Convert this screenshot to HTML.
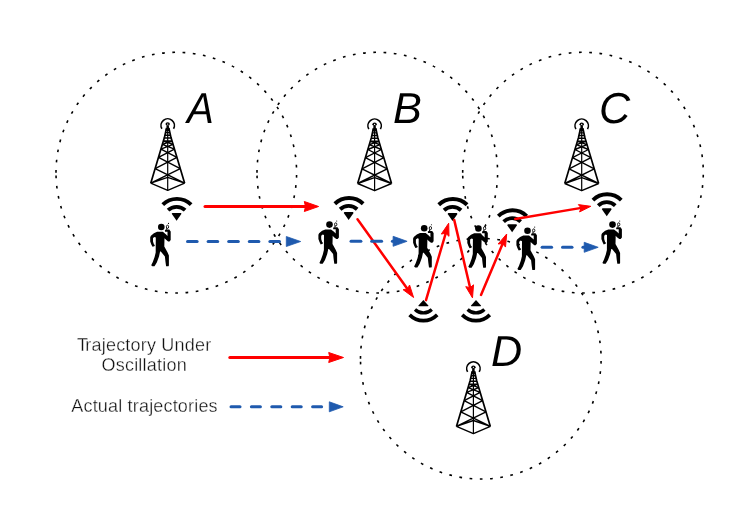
<!DOCTYPE html><html><head><meta charset="utf-8"><style>html,body{margin:0;padding:0;background:#fff;}svg{display:block}</style></head><body>
<svg width="756" height="531" viewBox="0 0 756 531">
<defs><g id="tower"><path d="M-5.8 10.75A6.7 6.7 0 1 1 5.8 10.75" fill="none" stroke="#000" stroke-width="1.6"/><ellipse cx="0" cy="6.0" rx="2.2" ry="1.8" fill="#000"/><circle cx="0" cy="6.1" r="0.65" fill="#fff"/><path d="M-1.2 7.4L1.2 7.4L1.3 10.0L2.44 12.2L-2.44 12.2L-1.3 10.0Z" fill="#000"/><path d="M-1.64 12.2L1.64 12.2M-2.18 14.6L2.18 14.6M-2.76 17.2L2.76 17.2M-3.42 20.0L3.42 20.0M-4.32 23.0L4.32 23.0M-4.32 23.0L5.34 26.4M4.32 23.0L-5.34 26.4M-5.34 26.4L6.77 31.2M5.34 26.4L-6.77 31.2M-6.77 31.2L9.23 39.4M6.77 31.2L-9.23 39.4M-9.23 39.4L12.58 50.6M9.23 39.4L-12.58 50.6M-12.58 50.6L16.95 65.2M12.58 50.6L-16.95 65.2M-16.95 65.2L0 72.4L16.95 65.2M-16.95 65.2L0 59.3L16.95 65.2" fill="none" stroke="#000" stroke-width="1.4" stroke-linejoin="round"/><path d="M-1.15 10.0L-3.3 19.6L-16.95 65.2M1.15 10.0L3.3 19.6L16.95 65.2" fill="none" stroke="#000" stroke-width="1.7"/><path d="M0 10.0V72.4" stroke="#000" stroke-width="1.2"/></g><g id="wifi"><path d="M-14.17 7.83A20.4 20.4 0 0 1 14.17 7.83" fill="none" stroke="#000" stroke-width="3.9"/><path d="M-8.52 13.36A12.5 12.5 0 0 1 8.52 13.36" fill="none" stroke="#000" stroke-width="3.8" transform="translate(-0.35 0)"/><path d="M-4.65 16.1L3.95 16.1L4.55 17L-0.35 24L-5.25 17Z" fill="#000"/></g><g id="wifif"><path d="M-14.24 7.75A20.5 20.5 0 0 1 14.24 7.75" fill="none" stroke="#000" stroke-width="3.8"/><path d="M-8.66 13.21A12.7 12.7 0 0 1 8.66 13.21" fill="none" stroke="#000" stroke-width="3.4"/><path d="M-4.8 16.4L4.8 16.4L5.3 17.0L0 22.7L-5.3 17.0Z" fill="#000"/></g><g id="person"><circle cx="0" cy="0" r="3.3" fill="#000"/><path d="M-4.2 4.8L1.5 4.8L4.5 7.2L6.2 8.9L6.2 4.7L3.8 4.7L3.6 3.2L4.5 2.6L8 2.6L9.4 4.6L9.4 13L8.2 14.5L6.8 14.5L4.5 12.6L3.2 11.2L3 19.5L6.3 25.5L7.6 28.5L7.6 38.5L7.2 39.2L4.8 39.2L4.2 35L3.6 29.5L-0.5 24.5L-1.2 24.5L-2.3 29.5L-4.5 35.5L-6.8 39.2L-9 39.2L-10.1 38.3L-8.5 35L-6.7 30L-5.6 25.5L-5.5 10.5L-6.8 9.9L-8.3 11.1L-8.3 14.5L-7.4 17.3L-6.4 18.3L-7 19.2L-8.8 19.8L-10 17.5L-11.1 14.5L-11.1 10.2L-10.4 8.7L-7.4 6.2Z" fill="#000"/><ellipse cx="6.2" cy="-0.2" rx="1.15" ry="1.6" fill="none" stroke="#000" stroke-width="0.9"/><path d="M5.3 2.7L5.6 1" stroke="#000" stroke-width="1"/><circle cx="7.2" cy="-3.6" r="0.55" fill="#000"/></g></defs>
<rect width="756" height="531" fill="#fff"/>
<path d="M56 172.65A120.3 120.3 0 1 1 296.6 172.65A120.3 120.3 0 1 1 56 172.65" fill="none" stroke="#000" stroke-width="1.6" stroke-dasharray="2.7 7.575"/>
<path d="M257 172.65A120.3 120.3 0 1 1 497.6 172.65A120.3 120.3 0 1 1 257 172.65" fill="none" stroke="#000" stroke-width="1.6" stroke-dasharray="2.7 7.575"/>
<path d="M462.7 172.65A120.3 120.3 0 1 1 703.3 172.65A120.3 120.3 0 1 1 462.7 172.65" fill="none" stroke="#000" stroke-width="1.6" stroke-dasharray="2.7 7.575"/>
<path d="M360.5 358.7A120.3 120.3 0 1 1 601.1 358.7A120.3 120.3 0 1 1 360.5 358.7" fill="none" stroke="#000" stroke-width="1.6" stroke-dasharray="2.7 7.575"/>
<use href="#tower" transform="translate(167.7 118)"/>
<use href="#tower" transform="translate(374.6 118.3)"/>
<use href="#tower" transform="translate(581.7 118.3)"/>
<use href="#tower" transform="translate(473.4 361.2)"/>
<g style="filter:opacity(1)">
<text transform="translate(186.9 122.6) scale(0.93 1)" font-family="Liberation Sans" font-style="italic" font-size="43.2" text-rendering="geometricPrecision" fill="#000">A</text>
<text transform="translate(393.1 122.7) scale(1 1)" font-family="Liberation Sans" font-style="italic" font-size="43.2" text-rendering="geometricPrecision" fill="#000">B</text>
<text transform="translate(599 122.9) scale(1 1)" font-family="Liberation Sans" font-style="italic" font-size="43.2" text-rendering="geometricPrecision" fill="#000">C</text>
<text transform="translate(490.9 365.7) scale(1 1)" font-family="Liberation Sans" font-style="italic" font-size="43.2" text-rendering="geometricPrecision" fill="#000">D</text>
</g>
<use href="#wifi" transform="translate(176.95 196.8)"/>
<use href="#wifi" transform="translate(349 195.9)"/>
<use href="#wifi" transform="translate(452.9 196.9)"/>
<use href="#wifi" transform="translate(512.5 208.2)"/>
<use href="#wifi" transform="translate(607.1 192.2)"/>
<use href="#wifif" transform="translate(423.4 322.7) scale(0.97 -1)"/>
<use href="#wifif" transform="translate(476 322.7) scale(0.97 -1)"/>
<use href="#person" transform="translate(161.3 227.0)"/>
<use href="#person" transform="translate(329.5 224.6)"/>
<use href="#person" transform="translate(424.2 228.3)"/>
<use href="#person" transform="translate(478.4 228.5)"/>
<use href="#person" transform="translate(527.5 230.7)"/>
<use href="#person" transform="translate(612.5 224.6)"/>
<path d="M205 206.5L305.8 206.5" stroke="#ff0000" stroke-width="3" stroke-linecap="round" fill="none"/><path d="M318.6 206.5L304.3 211.5L305.5 206.5L304.3 201.5Z" fill="#ff0000" stroke="#ff0000" stroke-width="1" stroke-linejoin="round"/>
<path d="M357.5 219.2L407.66 289.21" stroke="#ff0000" stroke-width="2.5" stroke-linecap="round" fill="none"/><path d="M413.6 297.5L403.07 289.67L407.48 288.96L409.57 285.01Z" fill="#ff0000" stroke="#ff0000" stroke-width="1" stroke-linejoin="round"/>
<path d="M426 300.1L445.81 232.98" stroke="#ff0000" stroke-width="2.5" stroke-linecap="round" fill="none"/><path d="M448.7 223.2L449 236.32L445.73 233.27L441.32 234.06Z" fill="#ff0000" stroke="#ff0000" stroke-width="1" stroke-linejoin="round"/>
<path d="M454.2 219.9L470.17 287.97" stroke="#ff0000" stroke-width="2.5" stroke-linecap="round" fill="none"/><path d="M472.5 297.9L465.75 286.64L470.1 287.68L473.54 284.82Z" fill="#ff0000" stroke="#ff0000" stroke-width="1" stroke-linejoin="round"/>
<path d="M481 294.9L502.73 243.4" stroke="#ff0000" stroke-width="2.5" stroke-linecap="round" fill="none"/><path d="M506.7 234L505.53 247.07L502.62 243.67L498.15 243.96Z" fill="#ff0000" stroke="#ff0000" stroke-width="1" stroke-linejoin="round"/>
<path d="M515.2 218.9L581.43 207.86" stroke="#ff0000" stroke-width="2.5" stroke-linecap="round" fill="none"/><path d="M590.8 206.3L579.57 211.92L581.13 207.91L578.35 204.62Z" fill="#ff0000" stroke="#ff0000" stroke-width="1" stroke-linejoin="round"/>
<path d="M187.5 241.5H197.1" stroke="#1f5aae" stroke-width="3" stroke-linecap="round"/><path d="M208.1 241.5H217.7" stroke="#1f5aae" stroke-width="3" stroke-linecap="round"/><path d="M228.7 241.5H238.3" stroke="#1f5aae" stroke-width="3" stroke-linecap="round"/><path d="M249.3 241.5H258.9" stroke="#1f5aae" stroke-width="3" stroke-linecap="round"/><path d="M269.9 241.5H279.5" stroke="#1f5aae" stroke-width="3" stroke-linecap="round"/><path d="M300.7 241.5L286.3 236.5L286.3 246.5Z" fill="#1f5aae" stroke="#1f5aae" stroke-width="0.8" stroke-linejoin="round"/>
<path d="M351 241.3H360.9" stroke="#1f5aae" stroke-width="3" stroke-linecap="round"/><path d="M371.7 241.3H381.6" stroke="#1f5aae" stroke-width="3" stroke-linecap="round"/><path d="M392.4 241.3H394.1" stroke="#1f5aae" stroke-width="3" stroke-linecap="round"/><path d="M407.1 241.3L393.1 236.3L393.1 246.3Z" fill="#1f5aae" stroke="#1f5aae" stroke-width="0.8" stroke-linejoin="round"/>
<path d="M542.1 247.3H551.6" stroke="#1f5aae" stroke-width="3" stroke-linecap="round"/><path d="M562.5 247.3H572" stroke="#1f5aae" stroke-width="3" stroke-linecap="round"/><path d="M582.9 247.3H585.2" stroke="#1f5aae" stroke-width="3" stroke-linecap="round"/><path d="M598.2 247.3L584.2 242.3L584.2 252.3Z" fill="#1f5aae" stroke="#1f5aae" stroke-width="0.8" stroke-linejoin="round"/>
<g style="filter:opacity(1)">
<text x="144.2" y="350.8" text-anchor="middle" font-family="Liberation Sans" font-size="18" fill="#111" letter-spacing="0.2" stroke="#fff" stroke-width="0.32">T<tspan dx="-2.2">rajectory Under</tspan></text>
<text x="144.2" y="370.7" text-anchor="middle" font-family="Liberation Sans" font-size="18" fill="#111" letter-spacing="0.22" stroke="#fff" stroke-width="0.32">Oscillation</text>
<text x="71.3" y="411.8" font-family="Liberation Sans" font-size="18" fill="#111" letter-spacing="0.18" stroke="#fff" stroke-width="0.32">Actual trajectories</text>
</g>
<path d="M229.8 357.5L330.2 357.5" stroke="#ff0000" stroke-width="3" stroke-linecap="round" fill="none"/><path d="M343.5 357.5L328.7 362.5L329.9 357.5L328.7 352.5Z" fill="#ff0000" stroke="#ff0000" stroke-width="1" stroke-linejoin="round"/>
<path d="M231 406.8H240" stroke="#1f5aae" stroke-width="3" stroke-linecap="round"/><path d="M251.4 406.8H260.4" stroke="#1f5aae" stroke-width="3" stroke-linecap="round"/><path d="M271.8 406.8H280.8" stroke="#1f5aae" stroke-width="3" stroke-linecap="round"/><path d="M292.2 406.8H301.2" stroke="#1f5aae" stroke-width="3" stroke-linecap="round"/><path d="M312.6 406.8H321.6" stroke="#1f5aae" stroke-width="3" stroke-linecap="round"/><path d="M343.2 406.8L329.3 401.8L329.3 411.8Z" fill="#1f5aae" stroke="#1f5aae" stroke-width="0.8" stroke-linejoin="round"/>
</svg></body></html>
